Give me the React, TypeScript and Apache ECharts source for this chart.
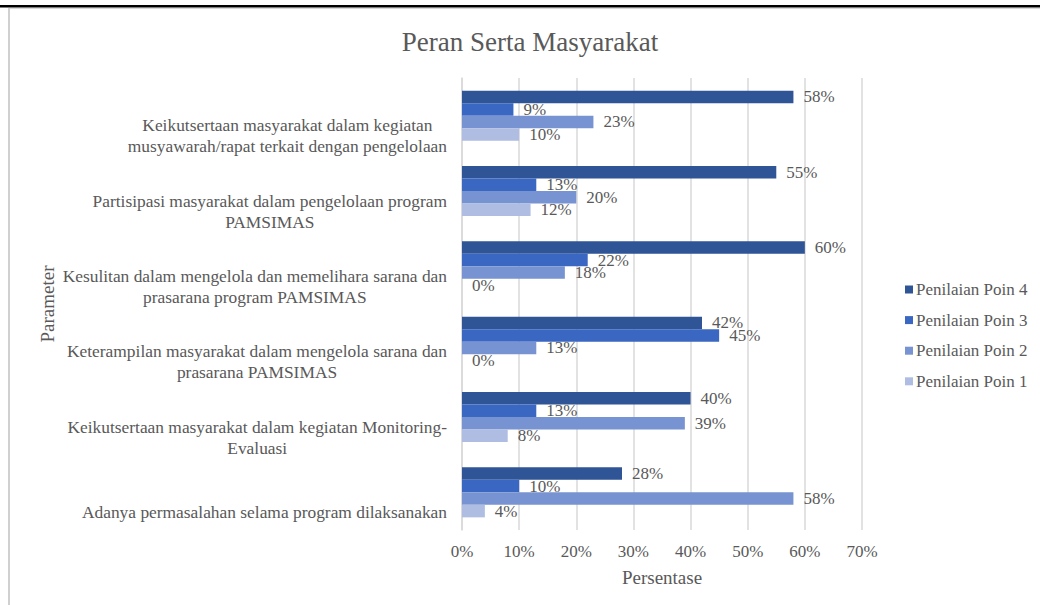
import React, { useEffect, useRef } from "react";
import * as echarts from "echarts";

const categories = [
  "Keikutsertaan masyarakat dalam kegiatan\nmusyawarah/rapat terkait dengan pengelolaan",
  "Partisipasi masyarakat dalam pengelolaan program\nPAMSIMAS",
  "Kesulitan dalam mengelola dan memelihara sarana dan\nprasarana program PAMSIMAS",
  "Keterampilan masyarakat dalam mengelola sarana dan\nprasarana PAMSIMAS",
  "Keikutsertaan masyarakat dalam kegiatan Monitoring-\nEvaluasi",
  "Adanya permasalahan selama program dilaksanakan",
];
const seriesNames = ["Penilaian Poin 4", "Penilaian Poin 3", "Penilaian Poin 2", "Penilaian Poin 1"];
const poin4 = [58, 55, 60, 42, 40, 28];
const poin3 = [9, 13, 22, 45, 13, 10];
const poin2 = [23, 20, 18, 13, 39, 58];
const poin1 = [10, 12, 0, 0, 8, 4];
const xTicks = [0, 10, 20, 30, 40, 50, 60, 70];
const colors = ["#2F5597", "#3A67C1", "#7893D1", "#AFBDE2"];

const FONT = "'Liberation Serif', 'Times New Roman', serif";
const TEXT = "#595959";

export default function App() {
  const ref = useRef<HTMLDivElement>(null);
  useEffect(() => {
    document.body.style.margin = "0";
    if (!ref.current) return;
    const chart = echarts.init(ref.current, undefined, { renderer: "svg" });
    const values = [poin4, poin3, poin2, poin1];
    chart.setOption({
      animation: false,
      backgroundColor: "#ffffff",
      textStyle: { fontFamily: FONT, color: TEXT },
      title: {
        text: "Peran Serta Masyarakat",
        left: 525,
        top: 23,
        textAlign: "center",
        textStyle: { fontFamily: FONT, fontSize: 27, fontWeight: "normal", color: TEXT },
      },
      graphic: [
        { type: "rect", shape: { x: 0, y: 5, width: 1040, height: 2.5 }, style: { fill: "#000" } },
        { type: "rect", shape: { x: 8, y: 8, width: 1032, height: 1 }, style: { fill: "#d9d9d9" } },
        { type: "rect", shape: { x: 8, y: 8, width: 2, height: 597 }, style: { fill: "#d0d0d0" } },
      ],
      legend: {
        orient: "vertical",
        left: 900,
        top: 276,
        itemWidth: 8,
        itemHeight: 8,
        itemGap: 13.6,
        icon: "rect",
        data: seriesNames,
        textStyle: { fontFamily: FONT, fontSize: 17, color: TEXT, padding: [0, 0, 0, -2] },
      },
      grid: { left: 462, right: 178, top: 78, bottom: 75, containLabel: false },
      xAxis: {
        type: "value",
        min: xTicks[0],
        max: xTicks[xTicks.length - 1],
        interval: 10,
        name: "Persentase",
        nameLocation: "middle",
        nameGap: 38,
        nameTextStyle: { fontFamily: FONT, fontSize: 19, color: TEXT },
        axisLine: { show: false },
        axisTick: { show: false },
        axisLabel: {
          formatter: "{value}%",
          margin: 13,
          fontFamily: FONT,
          fontSize: 17,
          color: TEXT,
        },
        splitLine: { show: true, lineStyle: { color: "#d9d9d9", width: 1.5 } },
      },
      yAxis: {
        type: "category",
        inverse: true,
        data: categories,
        name: "Parameter",
        nameLocation: "middle",
        nameGap: 405,
        nameRotate: 90,
        nameTextStyle: { fontFamily: FONT, fontSize: 19, color: TEXT },
        axisLine: { show: true, lineStyle: { color: "#d9d9d9", width: 1.5 } },
        axisTick: { show: false },
        axisLabel: {
          interval: 0,
          margin: 15,
          fontFamily: FONT,
          fontSize: 17.4,
          color: TEXT,
          formatter: (v: string) =>
            v
              .split("\n")
              .map((l) => `{c|${l}}`)
              .join("\n"),
          rich: {
            c: {
              align: "center",
              fontFamily: FONT,
              fontSize: 17.4,
              color: TEXT,
              lineHeight: 21,
            },
          },
          padding: [40, 0, 0, 0],
        },
      },
      series: seriesNames.map((name, i) => ({
        name,
        type: "bar",
        data: values[i],
        barGap: "0%",
        barCategoryGap: "33.6%",
        itemStyle: { color: colors[i] },
        label: {
          show: true,
          position: "right",
          distance: 10,
          formatter: "{c}%",
          fontFamily: FONT,
          fontSize: 17,
          color: TEXT,
        },
      })),
    });
    return () => chart.dispose();
  }, []);
  return <div ref={ref} style={{ width: 1040, height: 605 }} />;
}
